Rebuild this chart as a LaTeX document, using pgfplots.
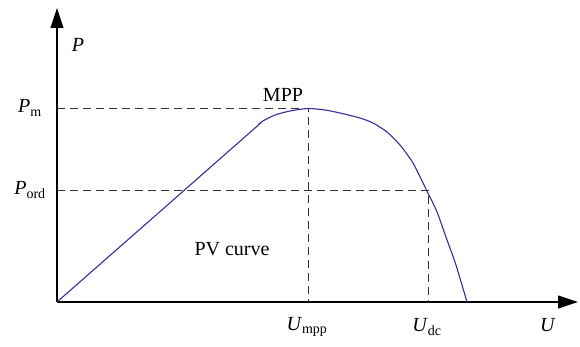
\documentclass[border=0pt]{standalone}
\usepackage{pgfplots}
\pgfplotsset{compat=1.18}
\usepackage{fontspec}
\setmainfont{Liberation Serif}
\usetikzlibrary{arrows.meta}
\begin{document}
\begin{tikzpicture}
\begin{axis}[
  scale only axis, width=521pt, height=294pt,
  xmin=0, xmax=521, ymin=0, ymax=294,
  axis lines=left,
  axis line style={line width=1.1pt, -{Triangle[length=20pt,width=13pt]}},
  ticks=none, clip=false,
  font=\fontsize{20}{22}\selectfont,
]
\path (axis cs:-57,-44) rectangle (axis cs:523,302);
% dashed guides
\addplot[black!80, dash pattern=on 8pt off 5pt, line width=1pt] coordinates {(0,194) (251,194) (251,0)};
\addplot[black!80, dash pattern=on 8pt off 5pt, line width=1pt] coordinates {(0,112) (371,112) (371,0)};
% PV curve
\addplot[color={rgb,255:red,55;green,45;blue,150}, line width=1.1pt, smooth, tension=0.4] coordinates {
(0,0) (100,87.8) (198,174) (206,181) (218,187) (233,191) (251,193.5) (268,192) (283,189)
(303,184) (316,179) (330,170) (343,157) (356,139) (368,115) (380,90) (390,62) (398,40) (405,17) (410,0)};
\node at (axis cs:21,257) {\textit{P}};
\node at (axis cs:-27,194) {\textit{P}\textsubscript{m}};
\node at (axis cs:-27,112) {\textit{P}\textsubscript{ord}};
\node at (axis cs:226,207) {MPP};
\node at (axis cs:175,53) {PV curve};
\node at (axis cs:250,-25) {\textit{U}\textsubscript{mpp}};
\node at (axis cs:370,-25) {\textit{U}\textsubscript{dc}};
\node at (axis cs:491,-23) {\textit{U}};
\end{axis}
\end{tikzpicture}
\end{document}
